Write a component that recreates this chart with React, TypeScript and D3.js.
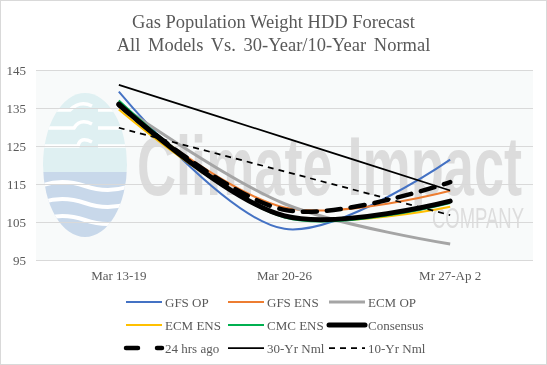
import React, { useRef, useEffect } from 'react';
import * as d3 from 'd3';

// categories + series
const weeks = ['Mar 13-19', 'Mar 20-26', 'Mr 27-Ap 2'];
const gfsOp = [139.3, 103.2, 121.4];
const gfsEns = [135.4, 108.8, 113.2];
const ecmOp = [136.0, 109.8, 99.2];
const ecmEns = [134.6, 106.6, 109.0];
const cmcEns = [137.0, 106.2, 110.0];
const consensus = [136.0, 106.6, 110.5];
const hrs24Ago = [135.8, 108.2, 115.5];
const nml30 = [141.1, 127.2, 113.3];
const nml10 = [129.8, 118.3, 106.8];
const yTicks = [95, 105, 115, 125, 135, 145];

const series = [
  { name: 'GFS OP', values: gfsOp, color: '#4472C4', width: 2, dash: null, cap: 'butt' },
  { name: 'GFS ENS', values: gfsEns, color: '#ED7D31', width: 2, dash: null, cap: 'butt' },
  { name: 'ECM OP', values: ecmOp, color: '#A5A5A5', width: 3, dash: null, cap: 'butt' },
  { name: 'ECM ENS', values: ecmEns, color: '#FFC000', width: 2, dash: null, cap: 'butt' },
  { name: 'CMC ENS', values: cmcEns, color: '#00B050', width: 2, dash: null, cap: 'butt' },
  { name: 'Consensus', values: consensus, color: '#000000', width: 5, dash: null, cap: 'round' },
  { name: '24 hrs ago', values: hrs24Ago, color: '#000000', width: 4.5, dash: '14,10', cap: 'round' },
  { name: '30-Yr Nml', values: nml30, color: '#000000', width: 1.75, dash: null, cap: 'butt' },
  { name: '10-Yr Nml', values: nml10, color: '#000000', width: 1.75, dash: '6,5', cap: 'butt' },
];

const W = 547;
const H = 365;
const plot = { left: 36, right: 533, top: 70, bottom: 260 };
const serif = '"Liberation Serif", "Times New Roman", serif';
const txt = '#595959';

const App = () => {
  const svgRef = useRef(null);

  useEffect(() => {
    const svg = d3.select(svgRef.current);
    svg.selectAll('*').remove();

    const x = d3.scalePoint().domain(weeks).range([plot.left, plot.right]).padding(0.5);
    const y = d3.scaleLinear().domain([95, 145]).range([plot.bottom, plot.top]);

    svg.append('rect').attr('x', 0.5).attr('y', 0.5).attr('width', W - 1).attr('height', H - 1)
      .attr('fill', '#fff').attr('stroke', '#d9d9d9');

    svg.append('rect').attr('x', plot.left).attr('y', plot.top)
      .attr('width', plot.right - plot.left).attr('height', plot.bottom - plot.top)
      .attr('fill', '#f8fafa');

    // watermark logo
    const wm = svg.append('g');
    const clip = svg.append('defs').append('clipPath').attr('id', 'logo');
    clip.append('ellipse').attr('cx', 85).attr('cy', 165).attr('rx', 42).attr('ry', 72);
    const lg = wm.append('g').attr('clip-path', 'url(#logo)');
    lg.append('rect').attr('x', 40).attr('y', 90).attr('width', 90).attr('height', 82).attr('fill', '#dff0f2');
    lg.append('rect').attr('x', 40).attr('y', 172).attr('width', 90).attr('height', 70).attr('fill', '#c8d8ea');
    [110, 128, 146].forEach((yy, i) => {
      lg.append('path')
        .attr('d', `M40,${yy} L${70 + i * 4},${yy} Q${80},${yy - 10} ${92},${yy - 4} M${98},${yy} L130,${yy}`)
        .attr('fill', 'none').attr('stroke', '#fff').attr('stroke-width', 3.5);
    });
    [186, 203, 220].forEach(yy => {
      lg.append('path')
        .attr('d', `M40,${yy} Q62,${yy - 8} 85,${yy} T130,${yy}`)
        .attr('fill', 'none').attr('stroke', '#fff').attr('stroke-width', 4);
    });
    wm.append('text').attr('x', 137).attr('y', 195).attr('textLength', 385).attr('lengthAdjust', 'spacingAndGlyphs')
      .attr('font-family', '"Liberation Sans Narrow", "Liberation Sans", Arial, sans-serif').attr('font-size', 84)
      .attr('font-weight', 'bold').attr('fill', '#dcdcdc').text('Climate Impact');
    wm.append('text').attr('x', 432).attr('y', 228).attr('textLength', 92).attr('lengthAdjust', 'spacingAndGlyphs')
      .attr('font-family', '"Liberation Sans Narrow", "Liberation Sans", Arial, sans-serif').attr('font-size', 30)
      .attr('fill', '#dddddd').text('COMPANY');

    // gridlines + y labels
    yTicks.forEach(t => {
      svg.append('line').attr('x1', plot.left).attr('x2', plot.right)
        .attr('y1', Math.round(y(t)) + 0.5).attr('y2', Math.round(y(t)) + 0.5)
        .attr('stroke', '#d9d9d9').attr('stroke-width', 1);
      svg.append('text').attr('x', 26).attr('y', y(t) + 4.5).attr('text-anchor', 'end')
        .attr('font-family', serif).attr('font-size', 13).attr('fill', txt).text(t);
    });

    weeks.forEach(w => {
      svg.append('text').attr('x', x(w)).attr('y', 280).attr('text-anchor', 'middle')
        .attr('font-family', serif).attr('font-size', 13).attr('fill', txt).text(w);
    });

    // title
    const title = svg.append('text').attr('text-anchor', 'middle').attr('font-family', serif)
      .attr('font-size', 18.5).attr('fill', txt);
    title.append('tspan').attr('x', W / 2).attr('y', 28).text('Gas Population Weight HDD Forecast');
    title.append('tspan').attr('x', W / 2).attr('y', 51).attr('word-spacing', 3).text('All Models Vs. 30-Year/10-Year Normal');

    const line = d3.line()
      .x((d, i) => x(weeks[i]))
      .y(d => y(d))
      .curve(d3.curveCatmullRom.alpha(0.5));

    series.forEach(s => {
      svg.append('path').attr('d', line(s.values))
        .attr('fill', 'none').attr('stroke', s.color).attr('stroke-width', s.width)
        .attr('stroke-dasharray', s.dash).attr('stroke-linecap', s.cap).attr('stroke-linejoin', 'round');
    });

    // legend
    const colX = [126, 228, 329];
    const rowY = [302, 325, 348];
    series.forEach((s, i) => {
      const cx = colX[i % 3];
      const cy = rowY[Math.floor(i / 3)];
      svg.append('line').attr('x1', cx).attr('x2', cx + 36).attr('y1', cy).attr('y2', cy)
        .attr('stroke', s.color).attr('stroke-width', s.width)
        .attr('stroke-dasharray', s.name === '24 hrs ago' ? '12,19' : s.dash)
        .attr('stroke-linecap', s.cap);
      svg.append('text').attr('x', cx + 39).attr('y', cy + 4.5)
        .attr('font-family', serif).attr('font-size', 13).attr('fill', txt).text(s.name);
    });
  }, []);

  return (
    <div style={{ position: 'fixed', left: 0, top: 0 }}>
      <svg ref={svgRef} width={W} height={H} style={{ display: 'block' }}></svg>
    </div>
  );
};

export default App;
